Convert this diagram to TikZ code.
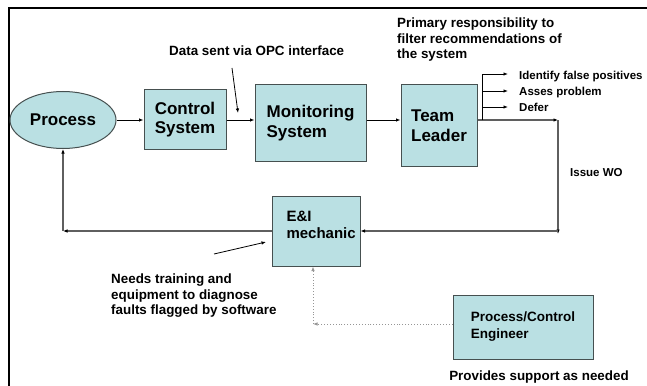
\documentclass[tikz,border=0pt]{standalone}
\usepackage{fontspec}
\setmainfont{Liberation Sans}
\usetikzlibrary{arrows.meta,shapes.geometric,calc}
\definecolor{boxfill}{RGB}{186,224,227}
\definecolor{boxedge}{RGB}{70,80,80}
\definecolor{linegray}{RGB}{95,95,95}
\definecolor{dotgray}{RGB}{150,150,150}
\tikzset{
  blk/.style={draw=boxedge,fill=boxfill,line width=1pt,align=left,inner sep=0pt,font=\bfseries\fontsize{17}{19.5}\selectfont},
  lbl/.style={inner sep=0pt,align=left,font=\bfseries\fontsize{13.4}{15.5}\selectfont},
  smalllbl/.style={inner sep=0pt,align=left,font=\bfseries\fontsize{11.5}{14}\selectfont},
  arr/.style={-{Latex[length=4.5pt,width=3.5pt]},line width=0.8pt,black},
  grayarr/.style={-{Latex[length=4.5pt,width=3.5pt,color=black]},line width=1.2pt,linegray},
  dotarr/.style={-{Latex[length=4.5pt,width=3.5pt]},line width=0.9pt,dotgray,dotted},
}
\begin{document}
\begin{tikzpicture}[x=1pt,y=-1pt]
\useasboundingbox (0,0) rectangle (647,385);
% frame
\draw[line width=2pt,black] (9,386) -- (9,8.5) -- (648,8.5);

% blocks
\node[blk,ellipse,minimum width=106pt,minimum height=57pt] (proc) at (63,120) {Process};
\node[blk,minimum width=82pt,minimum height=59pt] (ctrl) at (185,119.5) {Control\\System};
\node[blk,minimum width=111pt,minimum height=76pt,text depth=3pt] (mon) at (310.5,123) {Monitoring\\System};
\node[blk,minimum width=76pt,minimum height=81pt] (team) at (439,125.5) {Team\\Leader};
\node[blk,minimum width=88pt,minimum height=70pt] (ei) at (316,231) {};
\node[blk,draw=none,fill=none,anchor=west,font=\bfseries\fontsize{15}{16.5}\selectfont] (eitxt) at (286,225) {E\&I\\mechanic};
\node[blk,minimum width=140pt,minimum height=64pt,font=\bfseries\fontsize{13.5}{17}\selectfont] (pce) at (523,327) {Process/Control\\Engineer};

% labels
\node[lbl,anchor=west] (datalbl) at (169,51) {Data sent via OPC interface};
\node[lbl,anchor=north west] (primlbl) at (397,18) {Primary responsibility to\\filter recommendations of\\the system};
\node[smalllbl,anchor=west] (i1) at (519,77) {Identify false positives};
\node[smalllbl,anchor=west] (i2) at (519,93) {Asses problem};
\node[smalllbl,anchor=west] (i3) at (519,107) {Defer};
\node[smalllbl,anchor=west] (issue) at (570,173) {Issue WO};
\node[lbl,anchor=north west] (needs) at (111,274) {Needs training and\\equipment to diagnose\\faults flagged by software};
\node[lbl] (provides) at (539,377) {Provides support as needed};

% coordinates
\coordinate (c1) at (558,120);
\coordinate (c2) at (558,231);
\coordinate (c3) at (63,231);
\coordinate (c4) at (313,324);
\coordinate (b0) at (482,120);
\coordinate (b1) at (482,74);
\coordinate (a1) at (508,74);
\coordinate (a2) at (508,91);
\coordinate (a3) at (508,107);
\coordinate (d1) at (232,68);
\coordinate (d2) at (238,113);
\coordinate (n1) at (214,254);
\coordinate (n2) at (266,242);

% main flow
\draw[arr] (proc.east) -- (proc.east -| ctrl.west);
\draw[arr] (c1 -| ctrl.east) -- (c1 -| mon.west);
\draw[arr] (c1 -| mon.east) -- (c1 -| team.west);
\draw[grayarr] (c1 -| team.east) -- (c1);
\draw[grayarr] (c1) -- ([yshift=-3pt]c2);
\draw[grayarr] (c2) -- (c2 -| ei.east);
\draw[grayarr] (c3 -| ei.west) -- (c3);
\draw[grayarr] (c3) -- (proc.south);

% branches
\draw[line width=0.8pt] (b0) -- (b1);
\draw[arr] (b1) -- (a1);
\draw[arr] (a2 -| b0) -- (a2);
\draw[arr] (a3 -| b0) -- (a3);

% pointers
\draw[arr] (d1) -- (d2);
\draw[arr] (n1) -- (n2);

% dotted support
\draw[dotarr] (c4 -| pce.west) -- (c4);
\draw[dotarr] (c4) -- (c4 |- ei.south);
\end{tikzpicture}
\end{document}
